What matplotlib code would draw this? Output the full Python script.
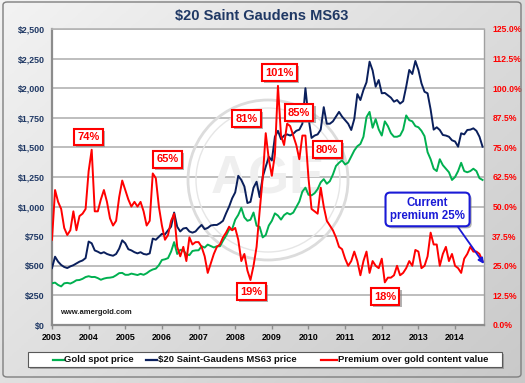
import matplotlib
matplotlib.use('Agg')
import matplotlib.pyplot as plt
import numpy as np
from matplotlib.patches import FancyBboxPatch, Ellipse, Rectangle
from matplotlib.lines import Line2D
from matplotlib.colors import LinearSegmentedColormap
from matplotlib.ticker import FuncFormatter, MultipleLocator
import matplotlib.patheffects as pe

plt.rcParams['font.family'] = ['Liberation Sans', 'DejaVu Sans']

# ---------------- data (monthly, Jan 2003 - Oct 2014) ----------------
start_year = 2003
gold = [352, 358, 338, 326, 352, 356, 350, 362, 378, 380, 390, 405,
        412, 405, 406, 396, 382, 392, 398, 400, 405, 420, 438, 440,
        424, 424, 434, 428, 422, 432, 424, 437, 456, 469, 476, 505,
        549, 555, 565, 620, 700, 600, 635, 630, 598, 590, 625, 630,
        631, 665, 654, 679, 667, 655, 665, 665, 712, 754, 806, 810,
        889, 930, 990, 909, 880, 889, 950, 839, 829, 740, 760, 840,
        880, 943, 924, 890, 928, 946, 934, 949, 996, 1043, 1127, 1160,
        1100, 1095, 1113, 1148, 1205, 1232, 1193, 1215, 1271, 1343, 1370, 1391,
        1356, 1372, 1424, 1474, 1510, 1529, 1590, 1756, 1800, 1666, 1739, 1652,
        1600, 1720, 1680, 1620, 1590, 1590, 1600, 1650, 1770, 1730, 1720, 1680,
        1670, 1640, 1595, 1460, 1400, 1320, 1300, 1400, 1350, 1320, 1290, 1225,
        1250, 1300, 1370, 1300, 1290, 1300, 1320, 1300, 1240, 1225]
coin = [481, 577, 535, 507, 490, 481, 495, 505, 520, 535, 545, 565,
        705, 690, 630, 619, 605, 615, 600, 591, 585, 600, 645, 715,
        690, 640, 630, 615, 605, 615, 600, 595, 605, 730, 720, 745,
        770, 765, 800, 830, 950, 830, 790, 815, 820, 790, 780, 790,
        820, 845, 810, 820, 840, 845, 845, 860, 880, 943, 1000, 1070,
        1120, 1260, 1225, 1170, 1030, 1040, 1160, 1210, 1080, 1250, 1337, 1420,
        1390, 1590, 1640, 1570, 1600, 1610, 1600, 1615, 1640, 1650, 1700, 2000,
        1750, 1580, 1600, 1610, 1650, 1840, 1700, 1700, 1720, 1760, 1800, 1760,
        1730, 1700, 1647, 1740, 1950, 1900, 1985, 2050, 2224, 2150, 2013, 2069,
        1957, 1960, 1940, 1920, 1886, 1900, 1870, 1890, 2013, 2154, 2120, 2230,
        2154, 2041, 1970, 1957, 1820, 1650, 1670, 1647, 1605, 1600, 1590, 1560,
        1550, 1506, 1619, 1610, 1647, 1650, 1661, 1640, 1590, 1506]
premium = [36, 57, 52, 49, 41, 38, 40, 48, 40, 46, 47, 49,
           65, 74, 48, 48, 53, 57, 52, 45, 42, 44, 54, 61,
           57, 53, 50, 52, 50, 52, 48, 42, 44, 64, 62, 50,
           42, 36, 38, 44, 47, 33, 29, 33, 27, 37, 34, 35,
           35, 33, 29, 22, 26, 30, 33, 34, 37, 39, 41.5, 40,
           41, 36, 27, 30, 23, 19, 25, 33, 48, 62, 81, 70,
           63, 72, 101, 80, 76, 85, 84, 80, 76, 70, 80, 80,
           62, 49, 48, 47, 58, 50, 44, 42, 40, 37, 33, 32,
           28, 25, 27, 31, 27, 21, 27, 31, 22, 27, 25, 24,
           28, 18, 20, 20, 21, 25, 21, 22, 24, 27, 25, 31.7,
           31, 24, 25, 29, 39, 34, 34, 25, 30, 33, 27, 30,
           25, 24, 22, 28, 30, 33, 31, 31, 30, 27]
year_ticks = list(range(2003, 2015))
series_names = ['Gold spot price', '$20 Saint-Gaudens MS63 price',
                'Premium over gold content value']
title = '$20 Saint Gaudens MS63'
# callouts: (text, year, percent)
callouts = [('74%', 2004.0, 79.4), ('65%', 2006.15, 69.9), ('81%', 2008.31, 87.2),
            ('101%', 2009.21, 106.6), ('85%', 2009.74, 89.7), ('80%', 2010.51, 74.1),
            ('19%', 2008.44, 14.1), ('18%', 2012.09, 12.0)]
current_text = 'Current\npremium 25%'

t = start_year + np.arange(len(gold)) / 12.0

W, H = 525, 383
fig = plt.figure(figsize=(W / 100, H / 100), dpi=100)

# background gradient
bg = fig.add_axes([0, 0, 1, 1], zorder=-10)
gx, gy = np.meshgrid(np.linspace(0, 1, 300), np.linspace(0, 1, 300))
val = 0.55 * gx + 0.45 * gy
cmap = LinearSegmentedColormap.from_list('g', ['#f3f3f3', '#c9c9c9'])
bg.imshow(val, cmap=cmap, aspect='auto', extent=[0, 1, 0, 1], origin='upper')
bg.set_xlim(0, 1); bg.set_ylim(0, 1)
bg.axis('off')

def fx(px):
    return px / W

def fy(py):
    return (H - py) / H

border = FancyBboxPatch((fx(3), fy(377)), fx(518), 375 / H,
                        boxstyle='round,pad=0,rounding_size=0.008',
                        transform=fig.transFigure, fc='none', ec='#7f7f7f', lw=1.0)
fig.add_artist(border)

ax = fig.add_axes([fx(52), fy(325), 432 / W, 296 / H])
ax.set_facecolor('white')
ax.set_xlim(2003, 2014.79)
ax.set_ylim(0, 2500)
ax.yaxis.set_major_locator(MultipleLocator(250))
ax.yaxis.set_major_formatter(FuncFormatter(lambda v, p: f'${v:,.0f}'))
ax.set_xticks(year_ticks)
ax.set_xticklabels([str(y) for y in year_ticks])
ax.grid(axis='y', color='#b3b3b3', lw=1.2)
ax.set_axisbelow(True)
for s in ['left', 'bottom']:
    ax.spines[s].set_color('#8c8c8c'); ax.spines[s].set_linewidth(1.6)
ax.spines['right'].set_color('#a0a0a0'); ax.spines['right'].set_linewidth(1.0)
ax.spines['top'].set_color('#b3b3b3'); ax.spines['top'].set_linewidth(1.2)
ax.tick_params(axis='y', length=0, pad=5, labelsize=6.4, labelcolor='#1f3864')
ax.tick_params(axis='x', length=3, width=1, color='#8c8c8c', pad=3, labelsize=6.4)
for lab in ax.get_yticklabels() + ax.get_xticklabels():
    lab.set_fontweight('bold')

# watermark coin
wm_c = (268, 180)
for r, lw, c in [(80, 2.0, '#dcdcdc'), (72, 1.0, '#e6e6e6')]:
    e = Ellipse((fx(wm_c[0]), fy(wm_c[1])), 2 * r / W, 2 * r / H, transform=fig.transFigure,
                fc='none', ec=c, lw=lw, zorder=1)
    ax.add_artist(e)
ax.text(fx(wm_c[0]), fy(wm_c[1]), 'AGE', transform=fig.transFigure, ha='center', va='center',
        fontsize=38, fontweight='bold', color='#efefef', zorder=1)

ax.plot(t, gold, color='#00b050', lw=1.4, zorder=3)
ax.plot(t, coin, color='#0a1f5c', lw=1.4, zorder=3)

ax2 = ax.twinx()
ax2.set_ylim(0, 125)
ax2.yaxis.set_major_locator(MultipleLocator(12.5))
ax2.yaxis.set_major_formatter(FuncFormatter(lambda v, p: f'{v:.1f}%'))
ax2.tick_params(axis='y', length=0, pad=6, labelsize=6.2, labelcolor='#ff0000')
for lab in ax2.get_yticklabels():
    lab.set_fontweight('bold')
for s in ax2.spines.values():
    s.set_visible(False)
ax2.plot(t, premium, color='#ff0000', lw=1.4, zorder=4)

shadow = [pe.withSimplePatchShadow(offset=(1.5, -1.5), shadow_rgbFace='#808080', alpha=0.6)]
for txt, xx, yy in callouts:
    tt = ax2.text(xx, yy, txt, ha='center', va='center', fontsize=8, fontweight='bold',
                  color='#ff0000', zorder=6,
                  bbox=dict(boxstyle='square,pad=0.3', fc='white', ec='#ff0000', lw=1.5))
    tt.get_bbox_patch().set_path_effects(shadow)

ct = ax2.text(2013.25, 48.8, current_text, ha='center', va='center', fontsize=8.3,
              fontweight='bold', color='#1a1ad6', zorder=6, linespacing=1.05,
              bbox=dict(boxstyle='round,pad=0.4,rounding_size=0.4', fc='white',
                        ec='#1a1ad6', lw=1.5))
ct.get_bbox_patch().set_path_effects(shadow)
ax2.annotate('', xy=(2014.79, 25.8), xytext=(2014.08, 41.4),
             arrowprops=dict(arrowstyle='-|>', color='#1a1ad6', lw=1.3,
                             mutation_scale=8, shrinkA=0, shrinkB=0), zorder=7,
             annotation_clip=False)

ax.text(fx(60), fy(312), 'www.amergold.com', transform=fig.transFigure, fontsize=5.5,
        fontweight='bold', color='#1a1a1a', va='center', ha='left', zorder=5)

fig.text(fx(262), fy(16), title, ha='center', va='center', fontsize=10.5,
         fontweight='bold', color='#1f3864')

# legend
leg = Rectangle((fx(28), fy(367)), 474 / W, 15 / H, transform=fig.transFigure,
                fc='white', ec='#595959', lw=0.8)
leg.set_path_effects(shadow)
fig.add_artist(leg)
ly = fy(359.5)
for (x0, x1, tx), col, name in zip([(53, 64, 64.5), (146, 157, 157.5), (321, 337, 337.5)],
                                   ['#00b050', '#0a1f5c', '#ff0000'], series_names):
    fig.add_artist(Line2D([fx(x0), fx(x1)], [ly, ly], transform=fig.transFigure,
                          color=col, lw=1.6))
    fig.text(fx(tx), ly, name, ha='left', va='center', fontsize=6.8,
             fontweight='bold', color='#111111')

fig.savefig('out.png', dpi=100)
